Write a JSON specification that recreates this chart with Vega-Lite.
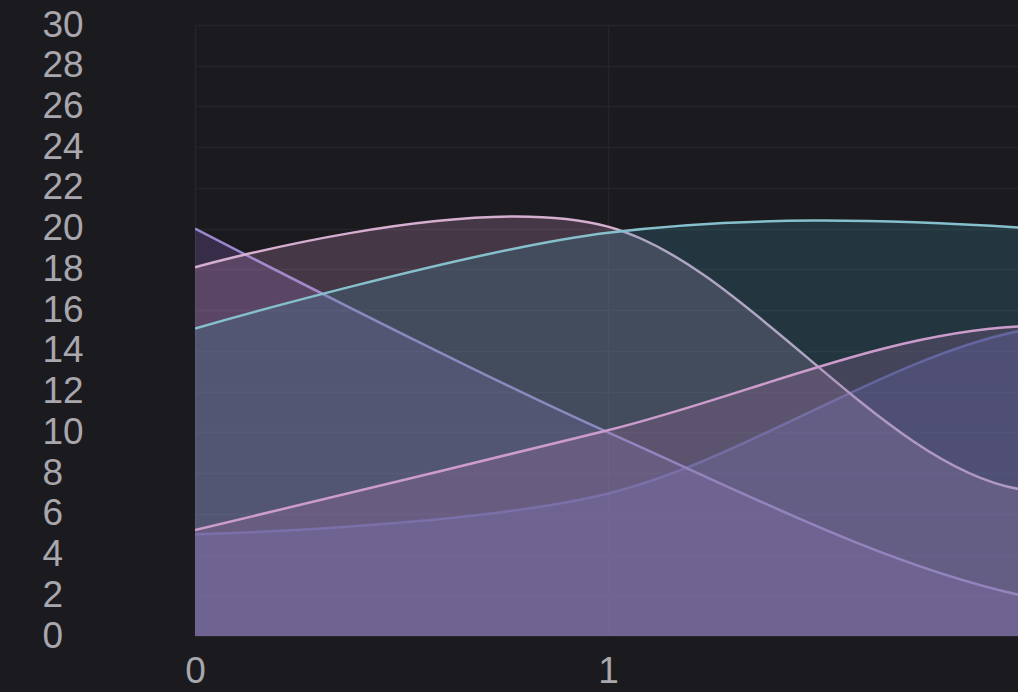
{
  "$schema": "https://vega.github.io/schema/vega-lite/v6.json",
  "autosize": "none",
  "width": 823,
  "height": 611,
  "padding": {"left": 195, "top": 25, "right": 0, "bottom": 56},
  "background": "#1b1a1f",
  "config": {
    "view": {"stroke": null},
    "axis": {
      "labelFont": "Liberation Sans",
      "labelFontSize": 37,
      "labelColor": "#a8a7ad",
      "ticks": false,
      "domain": false,
      "gridColor": "#25242a",
      "gridWidth": 1.5,
      "title": null
    }
  },
  "data": {
    "values": [
      {"x": 0, "s": "E", "v": 5.0}, {"x": 1, "s": "E", "v": 7.0}, {"x": 2, "s": "E", "v": 15.0}, {"x": 3, "s": "E", "v": 15.3},
      {"x": 0, "s": "A", "v": 20.0}, {"x": 1, "s": "A", "v": 10.0}, {"x": 2, "s": "A", "v": 2.0}, {"x": 3, "s": "A", "v": 1.0},
      {"x": 0, "s": "B", "v": 18.1}, {"x": 1, "s": "B", "v": 20.1}, {"x": 2, "s": "B", "v": 7.2}, {"x": 3, "s": "B", "v": 13.6},
      {"x": 0, "s": "C", "v": 15.1}, {"x": 1, "s": "C", "v": 19.8}, {"x": 2, "s": "C", "v": 20.05}, {"x": 3, "s": "C", "v": 17.2},
      {"x": 0, "s": "D", "v": 5.2}, {"x": 1, "s": "D", "v": 10.1}, {"x": 2, "s": "D", "v": 15.2}, {"x": 3, "s": "D", "v": 12.0}
    ]
  },
  "encoding": {
    "x": {
      "field": "x", "type": "quantitative",
      "scale": {"domain": [0, 1.993], "nice": false, "zero": false},
      "axis": {"values": [0, 1, 2], "format": "d", "labelPadding": 17, "grid": true, "labelFlush": false, "labelBaseline": "top"}
    },
    "y": {
      "field": "v", "type": "quantitative",
      "scale": {"domain": [0, 30], "nice": false},
      "axis": {"values": [0, 2, 4, 6, 8, 10, 12, 14, 16, 18, 20, 22, 24, 26, 28, 30], "labelAlign": "left", "labelPadding": 153, "grid": true, "labelBaseline": "middle"}
    }
  },
  "layer": [
    {"transform": [{"filter": "datum.s === 'E'"}], "mark": {"type": "area", "interpolate": "cardinal", "clip": true, "color": "#6060c0", "fillOpacity": 0.3}},
    {"transform": [{"filter": "datum.s === 'E'"}], "mark": {"type": "line", "interpolate": "cardinal", "clip": true, "color": "#7076d0", "strokeWidth": 2.5, "strokeOpacity": 0.6}},
    {"transform": [{"filter": "datum.s === 'A'"}], "mark": {"type": "area", "interpolate": "cardinal", "clip": true, "color": "#8a68c8", "fillOpacity": 0.25}},
    {"transform": [{"filter": "datum.s === 'A'"}], "mark": {"type": "line", "interpolate": "cardinal", "clip": true, "color": "#9a88d0", "strokeWidth": 2.5}},
    {"transform": [{"filter": "datum.s === 'B'"}], "mark": {"type": "area", "interpolate": "cardinal", "clip": true, "color": "#c890bc", "fillOpacity": 0.25}},
    {"transform": [{"filter": "datum.s === 'B'"}], "mark": {"type": "line", "interpolate": "cardinal", "clip": true, "color": "#d6aed0", "strokeWidth": 2.5}},
    {"transform": [{"filter": "datum.s === 'C'"}], "mark": {"type": "area", "interpolate": "cardinal", "clip": true, "color": "#3c8ca0", "fillOpacity": 0.25}},
    {"transform": [{"filter": "datum.s === 'C'"}], "mark": {"type": "line", "interpolate": "cardinal", "clip": true, "color": "#86c0cc", "strokeWidth": 2.5}},
    {"transform": [{"filter": "datum.s === 'D'"}], "mark": {"type": "area", "interpolate": "cardinal", "clip": true, "color": "#b474b4", "fillOpacity": 0.22}},
    {"transform": [{"filter": "datum.s === 'D'"}], "mark": {"type": "line", "interpolate": "cardinal", "clip": true, "color": "#cc9ccc", "strokeWidth": 2.5}}
  ]
}
